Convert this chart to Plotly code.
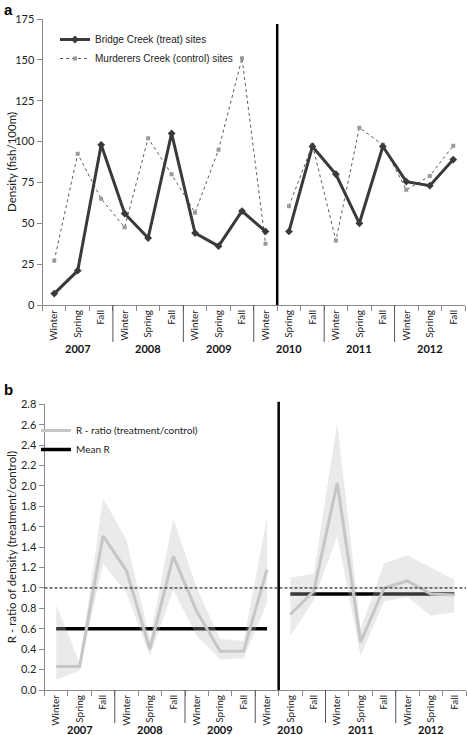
import plotly.graph_objects as go

# ---------------- data ----------------
years = ["2007", "2008", "2009", "2010", "2011", "2012"]
seasons = ["Winter", "Spring", "Fall"]
categories = [f"{s} {y}" for y in years for s in seasons]

bridge_creek = [7, 21, 98, 56, 41, 105, 44, 36, 57.5, 45,
                45, 97, 80, 50, 97, 75.5, 73, 89]
murderers_creek = [27, 92.5, 65, 47.5, 102, 80, 56.5, 95, 151, 37.5,
                   60.5, 98, 39.5, 108.5, 98, 70.5, 79, 97.5]

r_ratio = [0.23, 0.23, 1.51, 1.17, 0.40, 1.31, 0.77, 0.38, 0.38, 1.18,
           0.74, 0.97, 2.03, 0.47, 1.00, 1.07, 0.94, 0.93]
r_lower = [0.10, 0.19, 1.24, 0.95, 0.33, 0.98, 0.53, 0.30, 0.31, 0.85,
           0.53, 0.88, 1.51, 0.33, 0.87, 0.91, 0.73, 0.76]
r_upper = [0.83, 0.27, 1.88, 1.47, 0.50, 1.68, 1.00, 0.50, 0.48, 1.69,
           1.10, 1.14, 2.62, 0.60, 1.24, 1.32, 1.20, 1.08]

mean_r = [0.60, 0.94]
break_after = "Winter 2010"   # treatment starts after this survey

# ---------------- helpers ----------------
n = len(categories)
xi = list(range(n))
b = categories.index(break_after) + 1
segments = [list(range(0, b)), list(range(b, n))]

GREY_AXIS = "#8a8a8a"
TICK_FONT = dict(family="Lato, Liberation Sans, Arial", size=10, color="#222")

fig = go.Figure()

# ---------- panel a ----------
for k, seg in enumerate(segments):
    fig.add_trace(go.Scatter(
        x=seg, y=[murderers_creek[i] for i in seg], mode="lines+markers",
        line=dict(color="#5a5a5a", width=1, dash="dot"),
        marker=dict(symbol="square", size=4, color="#9a9a9a"),
        name="Murderers Creek (control) sites", legendgroup="mc",
        showlegend=False, xaxis="x", yaxis="y"))
for k, seg in enumerate(segments):
    fig.add_trace(go.Scatter(
        x=seg, y=[bridge_creek[i] for i in seg], mode="lines+markers",
        line=dict(color="#3a3a3a", width=3),
        marker=dict(symbol="diamond", size=6, color="#3a3a3a"),
        name="Bridge Creek (treat) sites", legendgroup="bc",
        showlegend=(k == 0), legend="legend", xaxis="x", yaxis="y"))
fig.add_trace(go.Scatter(
    x=[None], y=[None], mode="lines+markers",
    line=dict(color="#5a5a5a", width=1, dash="dot"),
    marker=dict(symbol="square", size=4, color="#9a9a9a"),
    name="Murderers Creek (control) sites", legendgroup="mc",
    showlegend=True, legend="legend", xaxis="x", yaxis="y"))

# ---------- panel b ----------
for k, seg in enumerate(segments):
    fig.add_trace(go.Scatter(
        x=[seg[0], seg[-1]], y=[mean_r[k], mean_r[k]], mode="lines",
        line=dict(color="#000000", width=3.5),
        name="Mean R", showlegend=False, xaxis="x2", yaxis="y2"))
for k, seg in enumerate(segments):
    fig.add_trace(go.Scatter(
        x=seg + seg[::-1],
        y=[r_upper[i] for i in seg] + [r_lower[i] for i in seg[::-1]],
        mode="lines", fill="toself", fillcolor="rgba(185,185,185,0.30)",
        line=dict(width=0), hoverinfo="skip", showlegend=False,
        xaxis="x2", yaxis="y2"))
for k, seg in enumerate(segments):
    fig.add_trace(go.Scatter(
        x=seg, y=[r_ratio[i] for i in seg], mode="lines",
        line=dict(color="#c6c6c6", width=3),
        name="R - ratio (treatment/control)", showlegend=(k == 0),
        legend="legend2", xaxis="x2", yaxis="y2"))
fig.add_trace(go.Scatter(
    x=[None], y=[None], mode="lines", line=dict(color="#000000", width=3.5),
    name="Mean R", showlegend=True, legend="legend2", xaxis="x2", yaxis="y2"))

# ---------------- layout ----------------
ML, MR, MT, MB = 40, 1, 19, 45
W, H = 467, 735
PW, PH = W - ML - MR, H - MT - MB

def px_x(p):
    return (p - ML) / PW

def px_y(p):
    return (H - MB - p) / PH

top_dom = [px_y(305), px_y(19)]
bot_dom = [px_y(690), px_y(404.3)]

xcommon = dict(
    range=[-0.5, n - 0.5], tickmode="array", tickvals=xi,
    ticktext=[c.split()[0] for c in categories], tickangle=-90,
    ticks="", showline=True, linecolor=GREY_AXIS, linewidth=1,
    showgrid=False, zeroline=False, tickfont=TICK_FONT,
    minor=dict(tickmode="array", tickvals=[i - 0.5 for i in range(n + 1)],
               ticks="outside", ticklen=5, tickcolor=GREY_AXIS, showgrid=False),
    fixedrange=True)

ycommon = dict(showline=True, linecolor=GREY_AXIS, linewidth=1, ticks="outside",
               ticklen=5, tickcolor=GREY_AXIS, showgrid=False, zeroline=False,
               tickfont=dict(family="Lato, Liberation Sans, Arial", size=11, color="#222"))

fig.update_layout(
    width=W, height=H, margin=dict(l=ML, r=MR, t=MT, b=MB),
    plot_bgcolor="white", paper_bgcolor="white",
    xaxis=dict(domain=[px_x(42.5), px_x(465)], anchor="y", **xcommon),
    yaxis=dict(domain=top_dom, anchor="x", range=[0, 175], tickvals=list(range(0, 176, 25)), **ycommon),
    xaxis2=dict(domain=[px_x(44.5), px_x(466)], anchor="y2", **xcommon),
    yaxis2=dict(domain=bot_dom, anchor="x2", range=[0, 2.8], tickvals=[i / 5 for i in range(15)],
                tickformat=".1f", **ycommon),
    legend=dict(x=px_x(55), y=px_y(25), xanchor="left", yanchor="top",
                bgcolor="rgba(0,0,0,0)", itemwidth=30, tracegroupgap=0,
                font=dict(family="Liberation Sans, Arial", size=10, color="#222")),
    legend2=dict(x=px_x(36), y=px_y(416), xanchor="left", yanchor="top",
                 bgcolor="rgba(0,0,0,0)", itemwidth=30, tracegroupgap=0,
                 font=dict(family="Lato, Liberation Sans, Arial", size=10, color="#222")),
    showlegend=True,
)

shapes = []
annotations = []
shapes.append(dict(type="line", xref="x", yref="y", x0=b - 0.5, x1=b - 0.5, y0=0, y1=172,
                   line=dict(color="#000", width=2.5)))
shapes.append(dict(type="line", xref="x2", yref="paper", x0=b - 0.5, x1=b - 0.5,
                   y0=bot_dom[0], y1=px_y(401.7), line=dict(color="#000", width=2.5)))
shapes.append(dict(type="line", xref="x2 domain", yref="y2", x0=0, x1=1, y0=1, y1=1,
                   line=dict(color="#000", width=1, dash="3px,2px")))

for ax, dom, sep_len, lab_y in (("x", top_dom, 37, px_y(348)), ("x2", bot_dom, 33, px_y(729))):
    for g, yr in enumerate(years):
        if g > 0:
            xs = g * 3 - 0.5
            shapes.append(dict(type="line", xref=ax, yref="paper", x0=xs, x1=xs,
                               y0=dom[0], y1=dom[0] - sep_len / PH,
                               line=dict(color="#555", width=1)))
        annotations.append(dict(x=g * 3 + 1, y=lab_y, xref=ax, yref="paper", text=f"<b>{yr}</b>",
                                showarrow=False, xanchor="center", yanchor="middle",
                                font=dict(family="Lato, Liberation Sans, Arial", size=11, color="#111")))

annotations.append(dict(x=px_x(11), y=(top_dom[0] + top_dom[1]) / 2, xref="paper", yref="paper",
                        text="Density (fish/100m)", textangle=-90, showarrow=False,
                        xanchor="center", yanchor="middle",
                        font=dict(family="Lato, Liberation Sans, Arial", size=11.5, color="#222")))
annotations.append(dict(x=px_x(11), y=(bot_dom[0] + bot_dom[1]) / 2, xref="paper", yref="paper",
                        text="R - ratio of density (treatment/control)", textangle=-90, showarrow=False,
                        xanchor="center", yanchor="middle",
                        font=dict(family="Lato, Liberation Sans, Arial", size=11.5, color="#222")))
annotations.append(dict(x=px_x(2), y=px_y(9), xref="paper", yref="paper", text="<b>a</b>",
                        showarrow=False, xanchor="left", yanchor="middle",
                        font=dict(family="Liberation Sans, Arial", size=15, color="#000")))
annotations.append(dict(x=px_x(2), y=px_y(389), xref="paper", yref="paper", text="<b>b</b>",
                        showarrow=False, xanchor="left", yanchor="middle",
                        font=dict(family="Liberation Sans, Arial", size=15, color="#000")))

fig.update_layout(shapes=shapes, annotations=annotations)
fig.write_html("out.html", config={"displayModeBar": False},
               post_script="document.body.style.margin='0';document.body.style.overflow='hidden';")
